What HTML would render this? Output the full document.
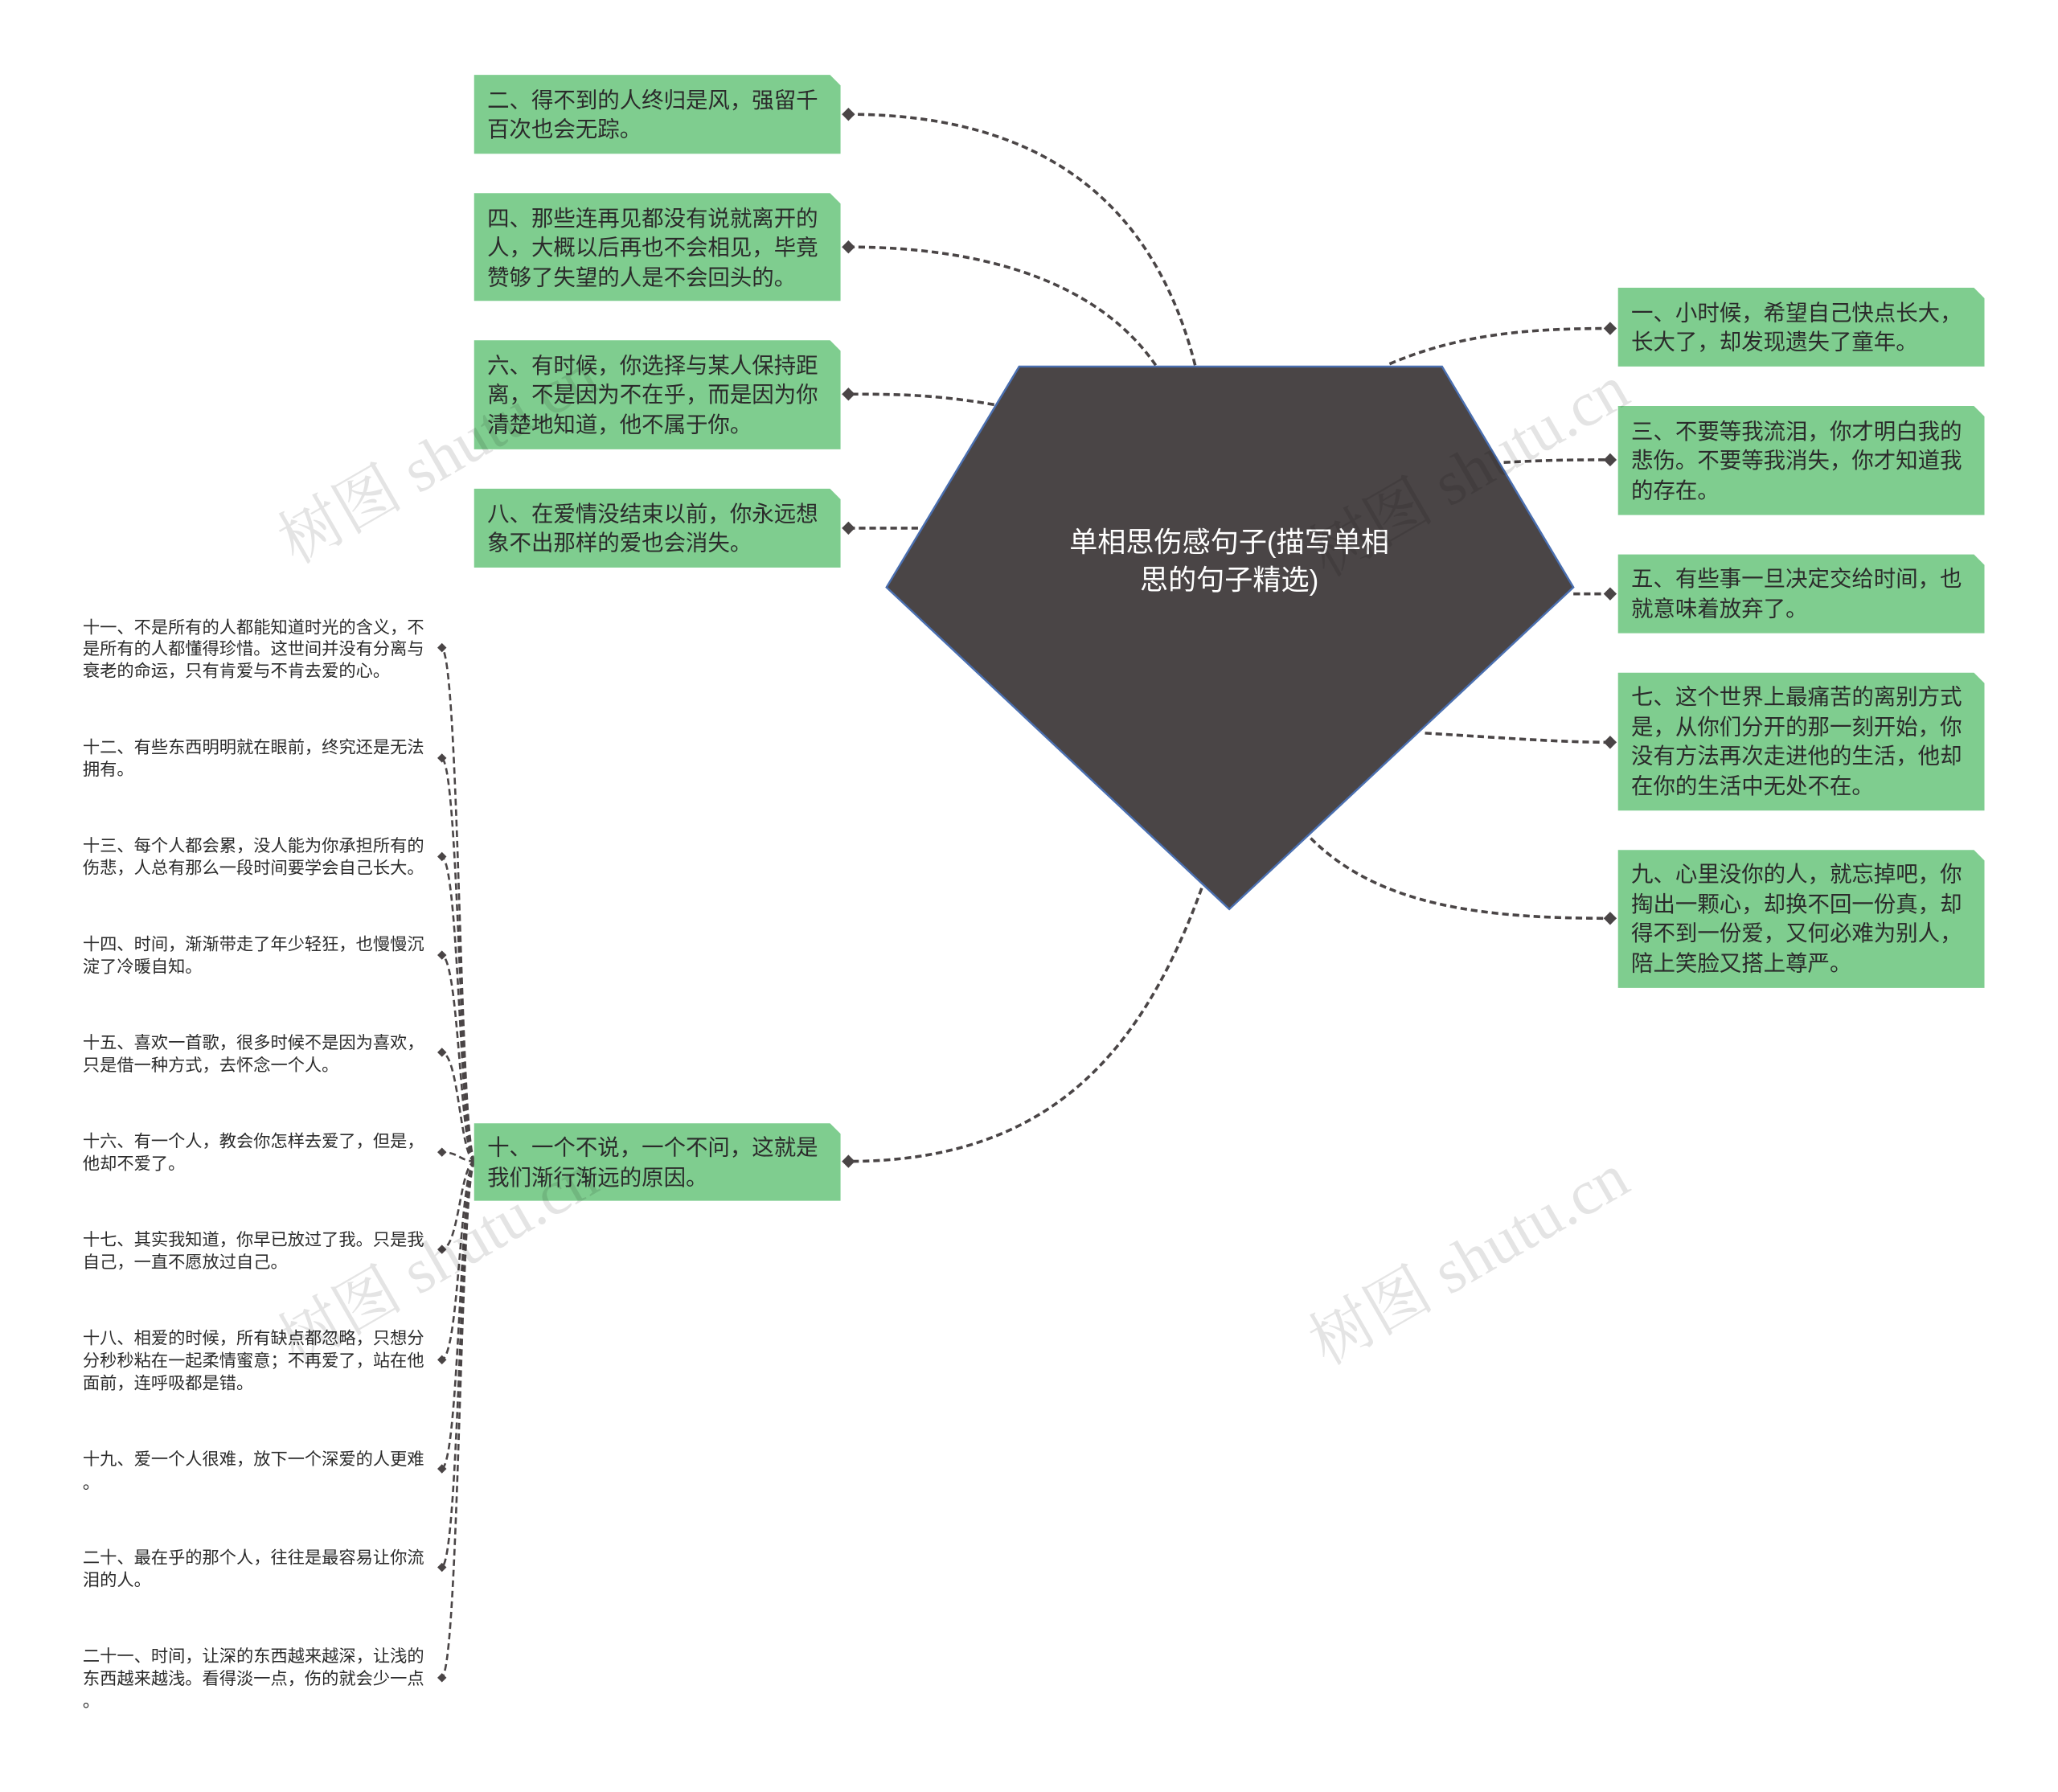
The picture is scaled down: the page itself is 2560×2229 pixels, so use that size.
<!DOCTYPE html>
<html><head><meta charset="utf-8"><style>
html,body{margin:0;padding:0;background:#fff}
svg{display:block}
text{font-family:"Liberation Sans","Noto Sans CJK SC",sans-serif}
.b{font-size:16.8px;fill:#2b2b2b}
.s{font-size:13px;fill:#2b2b2b}
.c{fill:none;stroke:#4a4546;stroke-width:2.2;stroke-dasharray:5,3}
.g{fill:#7fcd8f}
.w{font-size:48px;fill:#000;opacity:0.1;font-family:"Liberation Serif","Noto Serif CJK SC",serif}
</style></head><body>
<svg width="2560" height="2229" viewBox="0 0 1567 1364" preserveAspectRatio="none" xmlns="http://www.w3.org/2000/svg">
<!-- connectors -->
<path class="c" d="M910,278 C880,160 800,87 646,87"/>
<path class="c" d="M880,278 C840,220 760,188 646,188"/>
<path class="c" d="M757,308 C710,300 680,300 646,300"/>
<path class="c" d="M699,402 C680,402 660,402 646,402"/>
<path class="c" d="M915,676 C870,800 800,884 646,884"/>
<path class="c" d="M1058,277 C1110,255 1160,250 1226,250"/>
<path class="c" d="M1145,352 C1180,350 1200,350 1226,350"/>
<path class="c" d="M1198,452 C1210,452 1220,452 1226,452"/>
<path class="c" d="M1085,558 C1150,562 1190,565 1226,565"/>
<path class="c" d="M998,638 C1050,690 1130,699 1226,699"/>
<!-- bracket -->
<g class="c" style="stroke-width:1.6">
<path d="M362,884 C350,884 350,493 336,493"/>
<path d="M362,884 C350,884 350,577 336,577"/>
<path d="M362,884 C350,884 350,652 336,652"/>
<path d="M362,884 C350,884 350,727 336,727"/>
<path d="M362,884 C350,884 350,801 336,801"/>
<path d="M362,884 C350,884 350,877 336,877"/>
<path d="M362,884 C350,884 350,951 336,951"/>
<path d="M362,884 C350,884 350,1035 336,1035"/>
<path d="M362,884 C350,884 350,1118 336,1118"/>
<path d="M362,884 C350,884 350,1193 336,1193"/>
<path d="M362,884 C350,884 350,1277 336,1277"/>
</g>
<!-- diamonds -->
<g fill="#4a4546">
<path d="M641,87l5,-5l5,5l-5,5z"/><path d="M641,188l5,-5l5,5l-5,5z"/><path d="M641,300l5,-5l5,5l-5,5z"/><path d="M641,402l5,-5l5,5l-5,5z"/><path d="M641,884l5,-5l5,5l-5,5z"/>
<path d="M1221,250l5,-5l5,5l-5,5z"/><path d="M1221,350l5,-5l5,5l-5,5z"/><path d="M1221,452l5,-5l5,5l-5,5z"/><path d="M1221,565l5,-5l5,5l-5,5z"/><path d="M1221,699l5,-5l5,5l-5,5z"/>
<path d="M333,493l3.5,-3.5l3.5,3.5l-3.5,3.5z"/><path d="M333,577l3.5,-3.5l3.5,3.5l-3.5,3.5z"/><path d="M333,652l3.5,-3.5l3.5,3.5l-3.5,3.5z"/><path d="M333,727l3.5,-3.5l3.5,3.5l-3.5,3.5z"/><path d="M333,801l3.5,-3.5l3.5,3.5l-3.5,3.5z"/><path d="M333,877l3.5,-3.5l3.5,3.5l-3.5,3.5z"/><path d="M333,951l3.5,-3.5l3.5,3.5l-3.5,3.5z"/><path d="M333,1035l3.5,-3.5l3.5,3.5l-3.5,3.5z"/><path d="M333,1118l3.5,-3.5l3.5,3.5l-3.5,3.5z"/><path d="M333,1193l3.5,-3.5l3.5,3.5l-3.5,3.5z"/><path d="M333,1277l3.5,-3.5l3.5,3.5l-3.5,3.5z"/>
</g>
<!-- center -->
<polygon points="776,279 1098,279 1198,447 936,692 675,447" fill="#4a4546" stroke="#4a6fb0" stroke-width="1.5"/>
<text x="936" y="420" text-anchor="middle" fill="#fff" font-size="21.5">单相思伤感句子(描写单相</text>
<text x="936" y="449" text-anchor="middle" fill="#fff" font-size="21.5">思的句子精选)</text>
<!-- boxes -->
<g class="g">
<path d="M361,57h271l8,8v52h-279z"/>
<path d="M361,147h271l8,8v74h-279z"/>
<path d="M361,259h271l8,8v75h-279z"/>
<path d="M361,372h271l8,8v52h-279z"/>
<path d="M361,855h271l8,8v51h-279z"/>
<path d="M1232,219h271l8,8v52h-279z"/>
<path d="M1232,309h271l8,8v75h-279z"/>
<path d="M1232,422h271l8,8v52h-279z"/>
<path d="M1232,512h271l8,8v97h-279z"/>
<path d="M1232,647h271l8,8v97h-279z"/>
</g>
<g class="b">
<text x="371" y="82">二、得不到的人终归是风，强留千</text><text x="371" y="104">百次也会无踪。</text>
<text x="371" y="172">四、那些连再见都没有说就离开的</text><text x="371" y="194">人，大概以后再也不会相见，毕竟</text><text x="371" y="217">赞够了失望的人是不会回头的。</text>
<text x="371" y="284">六、有时候，你选择与某人保持距</text><text x="371" y="306">离，不是因为不在乎，而是因为你</text><text x="371" y="329">清楚地知道，他不属于你。</text>
<text x="371" y="397">八、在爱情没结束以前，你永远想</text><text x="371" y="419">象不出那样的爱也会消失。</text>
<text x="371" y="879">十、一个不说，一个不问，这就是</text><text x="371" y="902">我们渐行渐远的原因。</text>
<text x="1242" y="244">一、小时候，希望自己快点长大，</text><text x="1242" y="266">长大了，却发现遗失了童年。</text>
<text x="1242" y="334">三、不要等我流泪，你才明白我的</text><text x="1242" y="356">悲伤。不要等我消失，你才知道我</text><text x="1242" y="379">的存在。</text>
<text x="1242" y="446">五、有些事一旦决定交给时间，也</text><text x="1242" y="469">就意味着放弃了。</text>
<text x="1242" y="536">七、这个世界上最痛苦的离别方式</text><text x="1242" y="559">是，从你们分开的那一刻开始，你</text><text x="1242" y="581">没有方法再次走进他的生活，他却</text><text x="1242" y="604">在你的生活中无处不在。</text>
<text x="1242" y="671">九、心里没你的人，就忘掉吧，你</text><text x="1242" y="694">掏出一颗心，却换不回一份真，却</text><text x="1242" y="716">得不到一份爱，又何必难为别人，</text><text x="1242" y="739">陪上笑脸又搭上尊严。</text>
</g>
<g class="s">
<text x="63" y="482">十一、不是所有的人都能知道时光的含义，不</text><text x="63" y="498">是所有的人都懂得珍惜。这世间并没有分离与</text><text x="63" y="515">衰老的命运，只有肯爱与不肯去爱的心。</text>
<text x="63" y="573">十二、有些东西明明就在眼前，终究还是无法</text><text x="63" y="590">拥有。</text>
<text x="63" y="648">十三、每个人都会累，没人能为你承担所有的</text><text x="63" y="665">伤悲，人总有那么一段时间要学会自己长大。</text>
<text x="63" y="723">十四、时间，渐渐带走了年少轻狂，也慢慢沉</text><text x="63" y="740">淀了冷暖自知。</text>
<text x="63" y="798">十五、喜欢一首歌，很多时候不是因为喜欢，</text><text x="63" y="815">只是借一种方式，去怀念一个人。</text>
<text x="63" y="873">十六、有一个人，教会你怎样去爱了，但是，</text><text x="63" y="890">他却不爱了。</text>
<text x="63" y="948">十七、其实我知道，你早已放过了我。只是我</text><text x="63" y="965">自己，一直不愿放过自己。</text>
<text x="63" y="1023">十八、相爱的时候，所有缺点都忽略，只想分</text><text x="63" y="1040">分秒秒粘在一起柔情蜜意；不再爱了，站在他</text><text x="63" y="1057">面前，连呼吸都是错。</text>
<text x="63" y="1115">十九、爱一个人很难，放下一个深爱的人更难</text><text x="63" y="1133">。</text>
<text x="63" y="1190">二十、最在乎的那个人，往往是最容易让你流</text><text x="63" y="1207">泪的人。</text>
<text x="63" y="1265">二十一、时间，让深的东西越来越深，让浅的</text><text x="63" y="1282">东西越来越浅。看得淡一点，伤的就会少一点</text><text x="63" y="1299">。</text>
</g>
<text class="w" transform="translate(225,430) rotate(-30)">树图 shutu.cn</text>
<text class="w" transform="translate(1010,440) rotate(-30)">树图 shutu.cn</text>
<text class="w" transform="translate(225,1040) rotate(-30)">树图 shutu.cn</text>
<text class="w" transform="translate(1010,1040) rotate(-30)">树图 shutu.cn</text>
</svg>
</body></html>
